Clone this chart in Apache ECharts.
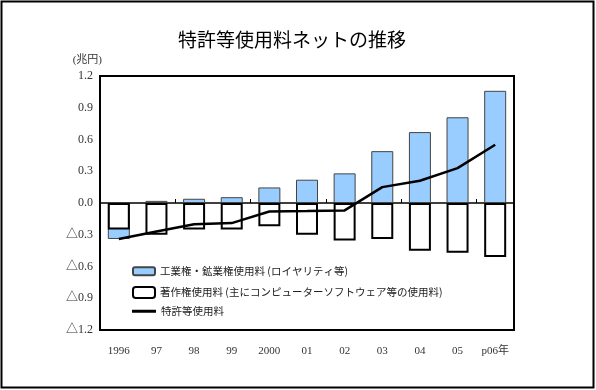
<!DOCTYPE html>
<html><head><meta charset="utf-8">
<script src="https://cdn.jsdelivr.net/npm/echarts@6/dist/echarts.min.js"></script>
<style>html,body{margin:0;padding:0;background:#fff}#c{width:596px;height:390px}</style>
</head><body><div id="c"></div>
<script>
var categories = ['1996','97','98','99','2000','01','02','03','04','05','p06年'];
var industrial = [-0.34, 0.02, 0.04, 0.055, 0.147, 0.22, 0.28, 0.49, 0.67, 0.81, 1.06];
var copyright = [-0.25, -0.30, -0.25, -0.25, -0.22, -0.30, -0.355, -0.34, -0.45, -0.47, -0.51];
var netTotal = [-0.34, -0.27, -0.20, -0.19, -0.08, -0.076, -0.07, 0.15, 0.21, 0.33, 0.55];
var names = ['工業権・鉱業権使用料 (ロイヤリティ等)', '著作権使用料 (主にコンピューターソフトウェア等の使用料)', '特許等使用料'];

var serif = '"Liberation Serif", "Noto Sans CJK JP", serif';
var cjk = '"Noto Sans CJK JP", sans-serif';
var chart = echarts.init(document.getElementById('c'));
chart.setOption({
  animation: false,
  backgroundColor: '#fff',
  title: {
    text: '特許等使用料ネットの推移', left: 178, top: 30, padding: 0,
    textStyle: { fontFamily: cjk, fontSize: 19, fontWeight: 'normal', color: '#000' }
  },
  graphic: [{
    type: 'rect', shape: { x: 1.5, y: 1.5, width: 592, height: 386 },
    style: { fill: 'none', stroke: '#000', lineWidth: 2 }, silent: true
  }],
  legend: [
    { data: [names[0]], left: 132, top: 266, orient: 'vertical', itemWidth: 22, itemHeight: 8, itemGap: 0, padding: 0,
      textStyle: { fontFamily: cjk, fontSize: 10.5, color: '#222' } },
    { data: [names[1]], left: 132, top: 286, orient: 'vertical', itemWidth: 22, itemHeight: 11, itemGap: 0, padding: 0,
      textStyle: { fontFamily: cjk, fontSize: 10.5, color: '#222' } },
    { data: [{ name: names[2], icon: 'rect', itemStyle: { color: '#000' } }], left: 132, top: 306, orient: 'vertical', itemWidth: 24, itemHeight: 3, itemGap: 0, padding: 0,
      textStyle: { fontFamily: cjk, fontSize: 10.5, color: '#222' } }
  ],
  grid: { left: 100, top: 76, right: 82, bottom: 60, show: true, borderColor: '#000', borderWidth: 2, backgroundColor: 'transparent' },
  xAxis: [{
    type: 'category', data: categories, position: 'bottom',
    axisLine: { onZero: true, lineStyle: { color: '#000', width: 1.5 } },
    axisTick: { show: true, inside: true, length: 4, lineStyle: { color: '#000', width: 1 } },
    axisLabel: { show: false }
  }, {
    type: 'category', data: categories, position: 'bottom',
    axisLine: { show: false, onZero: false }, axisTick: { show: false },
    axisLabel: { interval: 0, margin: 16, fontFamily: serif, fontSize: 11, color: '#333' }
  }],
  yAxis: {
    type: 'value', min: -1.2, max: 1.2, interval: 0.3,
    name: '(兆円)', nameLocation: 'end', nameGap: 10,
    nameTextStyle: { fontFamily: serif, fontSize: 11, color: '#333', align: 'right', padding: [0, -2, 0, 0] },
    axisLine: { show: true, lineStyle: { color: '#000', width: 2 } },
    axisTick: { show: false }, splitLine: { show: false },
    axisLabel: { margin: 7, fontFamily: serif, fontSize: 12, color: '#333',
      formatter: function (v) { var a = Math.abs(v).toFixed(1); return v < -1e-9 ? '△' + a : a; } }
  },
  series: [
    { name: names[0], type: 'bar', data: industrial, barWidth: 22, barGap: '-100%',
      itemStyle: { color: '#99ccff', borderColor: '#444', borderWidth: 1 } },
    { name: names[1], type: 'bar', data: copyright, barWidth: 22, barGap: '-100%',
      itemStyle: { color: '#fff', borderColor: '#000', borderWidth: 2 } },
    { name: names[2], type: 'line', data: netTotal, symbol: 'none', z: 5,
      lineStyle: { color: '#000', width: 2.5 }, itemStyle: { color: '#000' } }
  ]
});
</script></body></html>
